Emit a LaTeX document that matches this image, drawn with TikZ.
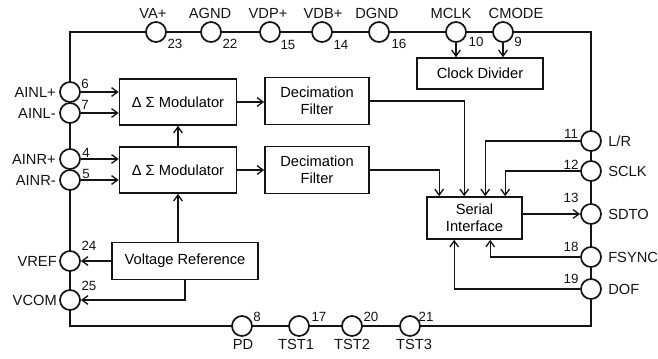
\documentclass[tikz,border=0pt]{standalone}
\usepackage{fontspec}
\setmainfont{Liberation Sans}
\usepackage{tikz}
\usetikzlibrary{calc,arrows.meta,positioning}
\definecolor{lineBlack}{RGB}{20,20,20}

\begin{document}
\begin{tikzpicture}[x=0.75pt,y=-0.75pt,
  frame/.style={lineBlack, line width=1.4pt},
  pin/.style={circle, draw=lineBlack, line width=1.3pt, fill=white, minimum size=15pt, inner sep=0pt},
  blk/.style={draw=lineBlack, line width=1.2pt, fill=white, align=center, inner sep=0pt, font=\fontsize{11}{12.5}\selectfont},
  sig/.style={lineBlack, line width=1pt, -{Straight Barb[length=4.5pt,width=6.5pt]}},
  lab/.style={inner sep=0pt, text=lineBlack, font=\fontsize{11}{12}\selectfont},
  num/.style={inner sep=0pt, text=lineBlack, font=\fontsize{10}{11}\selectfont}]
\useasboundingbox (0,0) rectangle (658,358);

\coordinate (tl) at (70,32);
\coordinate (tr) at (591,32);
\coordinate (br) at (591,326);
\coordinate (bl) at (70,326);
\draw[frame] (tl) -- (tr) -- (br) -- (bl) -- cycle;

\node[pin] (va) at (156,32) {};
\node[pin] (agnd) at (211,32) {};
\node[pin] (vdp) at (270,32) {};
\node[pin] (vdb) at (322,32) {};
\node[pin] (dgnd) at (379,32) {};
\node[pin] (mclk) at (456,32) {};
\node[pin] (cmode) at (503,32) {};
\node[lab] (vaL) at (153,13) {VA+};
\node[lab] (agndL) at (210,13) {AGND};
\node[lab] (vdpL) at (268,13) {VDP+};
\node[lab] (vdbL) at (323,13) {VDB+};
\node[lab] (dgndL) at (377,13) {DGND};
\node[lab] (mclkL) at (451,13) {MCLK};
\node[lab] (cmodeL) at (516,13) {CMODE};
\node[num] (vaN) at (175,44) {23};
\node[num] (agndN) at (230,44) {22};
\node[num] (vdpN) at (288,45) {15};
\node[num] (vdbN) at (341,45) {14};
\node[num] (dgndN) at (399,44) {16};
\node[num] (mclkN) at (476,42) {10};
\node[num] (cmodeN) at (518,42) {9};

\node[pin] (ainlp) at (70,92) {};
\node[pin] (ainlm) at (70,113) {};
\node[pin] (ainrp) at (70,159) {};
\node[pin] (ainrm) at (70,180) {};
\node[pin] (vref) at (70,261) {};
\node[pin] (vcom) at (70,300) {};
\node[lab, anchor=east] (ainlpL) at (56,92) {AINL+};
\node[lab, anchor=east] (ainlmL) at (56,113) {AINL-};
\node[lab, anchor=east] (ainrpL) at (56,159) {AINR+};
\node[lab, anchor=east] (ainrmL) at (56,180) {AINR-};
\node[lab, anchor=east] (vrefL) at (57,261) {VREF};
\node[lab, anchor=east] (vcomL) at (57,300) {VCOM};
\node[num] (ainlpN) at (85,84) {6};
\node[num] (ainlmN) at (85,105) {7};
\node[num] (ainrpN) at (86,153) {4};
\node[num] (ainrmN) at (86,174) {5};
\node[num] (vrefN) at (89,246) {24};
\node[num] (vcomN) at (89,286) {25};

\node[pin] (lr) at (591,141) {};
\node[pin] (sclk) at (591,171) {};
\node[pin] (sdto) at (591,214) {};
\node[pin] (fsync) at (591,257) {};
\node[pin] (dof) at (591,289) {};
\node[lab, anchor=west] (lrL) at (608,141) {L/R};
\node[lab, anchor=west] (sclkL) at (608,171) {SCLK};
\node[lab, anchor=west] (sdtoL) at (608,214) {SDTO};
\node[lab, anchor=west] (fsyncL) at (608,257) {FSYNC};
\node[lab, anchor=west] (dofL) at (608,289) {DOF};
\node[num] (lrN) at (571,134) {11};
\node[num] (sclkN) at (571,165) {12};
\node[num] (sdtoN) at (571,198) {13};
\node[num] (fsyncN) at (571,247) {18};
\node[num] (dofN) at (571,279) {19};

\node[pin] (pd) at (242,326) {};
\node[pin] (tst1) at (299,326) {};
\node[pin] (tst2) at (352,326) {};
\node[pin] (tst3) at (410,326) {};
\node[lab] (pdL) at (243,344) {PD};
\node[lab] (tst1L) at (296,344) {TST1};
\node[lab] (tst2L) at (352,344) {TST2};
\node[lab] (tst3L) at (414,344) {TST3};
\node[num] (pdN) at (257,317) {8};
\node[num] (tst1N) at (319,317) {17};
\node[num] (tst2N) at (371,317) {20};
\node[num] (tst3N) at (426,317) {21};

\node[blk, minimum width=87.75pt, minimum height=34.5pt] (mod1) at (178,102) {Δ Σ Modulator};
\node[blk, minimum width=87.75pt, minimum height=34.5pt] (mod2) at (178,170) {Δ Σ Modulator};
\node[blk, minimum width=78pt, minimum height=35.25pt] (dec1) at (317,101) {Decimation\\Filter};
\node[blk, minimum width=78pt, minimum height=35.25pt] (dec2) at (317,170) {Decimation\\Filter};
\node[blk, minimum width=94.5pt, minimum height=23.25pt] (clk) at (480,73.5) {Clock Divider};
\node[blk, minimum width=71.25pt, minimum height=31.5pt] (ser) at (474.5,218) {Serial\\Interface};
\node[blk, minimum width=109.5pt, minimum height=27.75pt] (vrefb) at (185,261) {Voltage Reference};

\draw[sig] (ainlp.east) -- (ainlp -| mod1.west);
\draw[sig] (ainlm.east) -- (ainlm -| mod1.west);
\draw[sig] (ainrp.east) -- (ainrp -| mod2.west);
\draw[sig] (ainrm.east) -- (ainrm -| mod2.west);
\draw[sig] (mod1.east) -- (mod1.east -| dec1.west);
\draw[sig] (mod2.east) -- (dec2.west);
\draw[sig] (mod2.north) -- (mod1.south);
\draw[sig] (vrefb.north -| mod2.south) -- (mod2.south);
\draw[sig] (vrefb.west) -- (vref.east);
\draw[sig] (vrefb.south) |- (vcom.east);
\draw[sig] (mclk.south) -- (mclk |- clk.north);
\draw[sig] (cmode.south) -- (cmode |- clk.north);
\draw[sig] (dec1.east) -| ($(ser.north west)+(38,0)$);
\draw[sig] (dec2.east) -| ($(ser.north west)+(13,0)$);
\draw[sig] (lr.west) -| ($(ser.north west)+(59,0)$);
\draw[sig] (sclk.west) -| ($(ser.north west)+(79,0)$);
\draw[sig] (sdto -| ser.east) -- (sdto.west);
\draw[sig] (fsync.west) -| ($(ser.south west)+(64,0)$);
\draw[sig] (dof.west) -| ($(ser.south west)+(28,0)$);
\end{tikzpicture}
\end{document}
